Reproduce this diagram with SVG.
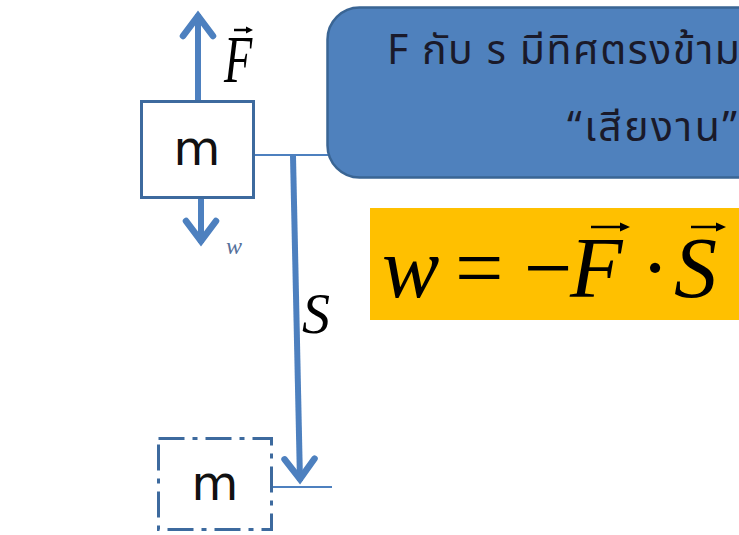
<svg xmlns="http://www.w3.org/2000/svg" width="739" height="535" viewBox="0 0 739 535">
<style>
.box{fill:#ffffff;stroke:#3d6a9e;stroke-width:3}
.dash{fill:none;stroke:#3d6a9e;stroke-width:3;stroke-dasharray:26 8 5 8}
.mass{font-family:"DejaVu Sans","Liberation Sans",sans-serif;font-size:48px;fill:#111;text-anchor:middle}
.arrow{fill:none;stroke:#4d80bf;stroke-width:6}
.thin{fill:none;stroke:#4d80bf;stroke-width:2}
.math{font-family:"Liberation Serif","Times New Roman",serif;font-style:italic;fill:#000}
.mathr{font-family:"Liberation Serif","Times New Roman",serif;fill:#000}
.vec{fill:none;stroke:#000;stroke-width:2.5}
.vechead{fill:#000;stroke:none}
.thai{font-family:"Tahoma","Noto Sans Thai","Loma","Garuda","Noto Sans","DejaVu Sans",sans-serif;font-size:41px;fill:#1a1a2a}
</style>
<defs>
<marker id="head" markerUnits="userSpaceOnUse" markerWidth="40" markerHeight="40" viewBox="-30 -20 40 40" refX="0" refY="0" orient="auto" overflow="visible">
<path d="M-22,-15 L-2,0 L-22,15" fill="none" stroke="#4d80bf" stroke-width="6.5" stroke-linejoin="miter" stroke-linecap="round"/>
</marker>
</defs>

<g id="connectors">
<line class="arrow" x1="198" y1="101" x2="198" y2="14" marker-end="url(#head)"/>
<line class="arrow" x1="201" y1="198" x2="201" y2="243" marker-end="url(#head)"/>
<line class="arrow" x1="293" y1="156" x2="300" y2="481" marker-end="url(#head)"/>
<line class="thin" x1="254" y1="155" x2="329" y2="155"/>
<line class="thin" x1="272" y1="487" x2="332" y2="487"/>
</g>

<g id="callout">
<rect x="327.5" y="7.5" width="460" height="170" rx="32" ry="32" fill="#4f81bd" stroke="#3a6594" stroke-width="2.5"/>
<text class="thai" x="387" y="64" letter-spacing="1.5">F กับ s มีทิศตรงข้าม</text>
<text class="thai" x="567" y="141" textLength="170" lengthAdjust="spacing">“เสียงาน”</text>
</g>

<g id="mass-top">
<rect class="box" x="141.5" y="101.5" width="112" height="96"/>
<text class="mass" x="197" y="165">m</text>
</g>

<g id="mass-bottom">
<rect class="dash" x="158.5" y="438.5" width="113" height="91"/>
<text class="mass" x="215" y="500">m</text>
</g>

<g id="label-F">
<text class="math" font-size="68" transform="translate(224,82) scale(0.68,1)">F</text>
<line class="vec" x1="234" y1="30" x2="249" y2="30" stroke-width="2"/>
<path class="vechead" d="M246,26.5 L253,30 L246,33.5 Z"/>
</g>

<g id="label-w">
<text class="math" font-size="24" x="226" y="254" style="fill:#56709a">w</text>
</g>

<g id="label-S">
<text class="math" font-size="56" x="302" y="333">S</text>
</g>

<g id="formula">
<rect x="370" y="208" width="369" height="112" fill="#ffc000"/>
<text class="math" font-size="86" x="382" y="297">w</text>
<text class="mathr" font-size="86" x="455" y="297">=</text>
<text class="mathr" font-size="86" x="524" y="297">−</text>
<text class="math" font-size="86" x="570" y="297">F</text>
<text class="mathr" font-size="86" x="655" y="297" text-anchor="middle">·</text>
<text class="math" font-size="86" x="674" y="297">S</text>
<line class="vec" x1="591" y1="227" x2="624" y2="227"/>
<path class="vechead" d="M620,222.5 L630,227 L620,231.5 Z"/>
<line class="vec" x1="691" y1="227" x2="720" y2="227"/>
<path class="vechead" d="M716,222.5 L726,227 L716,231.5 Z"/>
</g>
</svg>
